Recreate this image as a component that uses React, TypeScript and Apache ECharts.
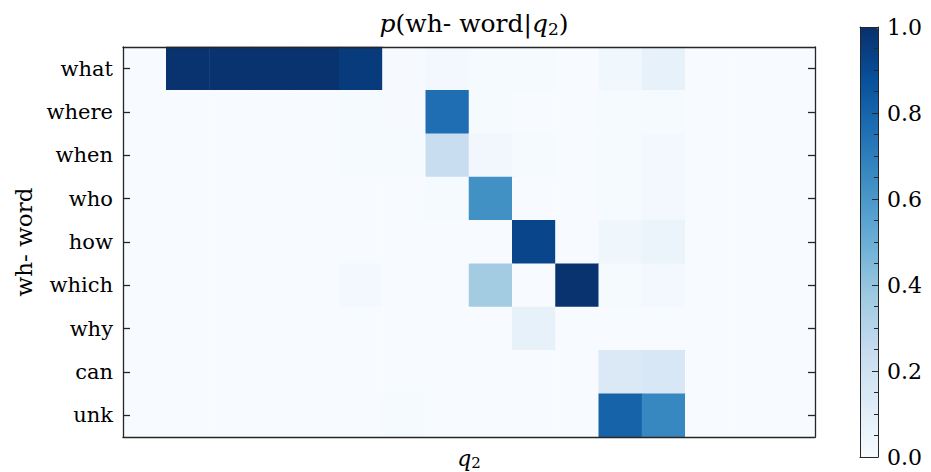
import React, { useEffect, useRef } from "react";
import * as echarts from "echarts";

const whWords = ["what", "where", "when", "who", "how", "which", "why", "can", "unk"];
const q2Clusters = ["0", "1", "2", "3", "4", "5", "6", "7", "8", "9", "10", "11", "12", "13", "14", "15"];

const pWhat  = [0, 0.99, 0.99, 0.99, 0.99, 0.96, 0.005, 0.02, 0.01, 0.01, 0, 0.035, 0.08, 0, 0, 0];
const pWhere = [0, 0, 0, 0, 0, 0.01, 0.005, 0.76, 0.01, 0, 0, 0.01, 0.01, 0, 0, 0];
const pWhen  = [0, 0, 0, 0, 0, 0.01, 0.01, 0.235, 0.03, 0.01, 0, 0.01, 0.02, 0, 0, 0];
const pWho   = [0, 0, 0, 0, 0, 0, 0, 0.01, 0.63, 0, 0, 0.01, 0.02, 0, 0, 0];
const pHow   = [0, 0, 0, 0, 0, 0, 0, 0, 0, 0.92, 0, 0.04, 0.06, 0, 0, 0];
const pWhich = [0, 0, 0, 0, 0, 0.02, 0, 0, 0.36, 0, 0.99, 0.01, 0.02, 0, 0, 0];
const pWhy   = [0, 0, 0, 0, 0, 0, 0, 0, 0, 0.078, 0, 0, 0, 0, 0, 0];
const pCan   = [0, 0, 0, 0, 0, 0, 0, 0, 0, 0, 0, 0.14, 0.155, 0, 0, 0];
const pUnk   = [0, 0, 0, 0, 0, 0, 0.01, 0, 0, 0, 0, 0.805, 0.665, 0, 0, 0];

const rows = [pWhat, pWhere, pWhen, pWho, pHow, pWhich, pWhy, pCan, pUnk];

const colorbarTicks = [0, 0.2, 0.4, 0.6, 0.8, 1.0];

const blues = ["#f7fbff", "#deebf7", "#c6dbef", "#9ecae1", "#6baed6", "#4292c6", "#2171b5", "#08519c", "#08306b"];

const FONT = "DejaVu Serif";
const LINE = "#262626";

export default function App() {
  const ref = useRef<HTMLDivElement>(null);
  useEffect(() => {
    if (!ref.current) return;
    const chart = echarts.init(ref.current, undefined, { renderer: "svg" });
    const data: [number, number, number][] = [];
    rows.forEach((r, yi) => r.forEach((v, xi) => data.push([xi, yi, v])));
    const mkRich = (size: number, sub: number, drop: number) => ({
      i: { fontStyle: "italic", fontWeight: "normal", fontFamily: FONT, fontSize: size, color: "#000" },
      r: { fontStyle: "normal", fontWeight: "normal", fontFamily: FONT, fontSize: size, color: "#000" },
      s: { fontStyle: "normal", fontWeight: "normal", fontFamily: FONT, fontSize: sub, color: "#000", padding: [drop, 0, 0, 0] },
    });
    chart.setOption({
      animation: false,
      backgroundColor: "#fff",
      title: {
        text: "{i|p}{r|(wh- word|}{i|q}{s|2}{r|)}",
        left: 469,
        textAlign: "center",
        top: 4,
        textStyle: { fontWeight: "normal", rich: mkRich(25, 17, 11) },
      },
      grid: [
        { left: 123, top: 47, width: 692, height: 390, outerBoundsMode: "none", containLabel: false },
        { left: 860, top: 27, width: 18, height: 430, outerBoundsMode: "none", containLabel: false },
      ],
      xAxis: [
        {
          type: "category", gridIndex: 0, data: q2Clusters, position: "bottom",
          axisTick: { show: false }, axisLabel: { show: false },
          axisLine: { show: true, lineStyle: { color: LINE, width: 1.3 } },
          splitLine: { show: false }, z: 10,
          name: "{i|q}{s|2}", nameLocation: "middle", nameGap: 9,
          nameTextStyle: { rich: mkRich(22, 15, 9) },
        },
        {
          type: "category", gridIndex: 0, data: q2Clusters, position: "top",
          axisTick: { show: false }, axisLabel: { show: false },
          axisLine: { show: true, onZero: false, lineStyle: { color: LINE, width: 1.3 } },
          splitLine: { show: false }, z: 10,
        },
        {
          type: "value", gridIndex: 1, min: 0, max: 1, position: "bottom",
          axisTick: { show: false }, axisLabel: { show: false },
          axisLine: { show: true, lineStyle: { color: LINE, width: 1 } }, splitLine: { show: false }, z: 10,
        },
        {
          type: "value", gridIndex: 1, min: 0, max: 1, position: "top",
          axisTick: { show: false }, axisLabel: { show: false },
          axisLine: { show: true, onZero: false, lineStyle: { color: LINE, width: 1 } }, splitLine: { show: false }, z: 10,
        },
      ],
      yAxis: [
        {
          type: "category", gridIndex: 0, data: whWords, inverse: true, position: "left",
          axisTick: { show: true, inside: true, alignWithLabel: true, length: 7, lineStyle: { color: LINE, width: 1.3 } },
          axisLine: { show: true, lineStyle: { color: LINE, width: 1.3 } },
          axisLabel: { fontFamily: FONT, fontSize: 21, color: "#000", margin: 10 },
          splitLine: { show: false }, z: 10,
          name: "wh- word", nameLocation: "middle", nameGap: 82, nameRotate: 90,
          nameTextStyle: { fontFamily: FONT, fontSize: 23, color: "#000" },
        },
        {
          type: "category", gridIndex: 0, data: whWords, inverse: true, position: "right",
          axisTick: { show: true, inside: true, alignWithLabel: true, length: 7, lineStyle: { color: LINE, width: 1.3 } },
          axisLine: { show: true, lineStyle: { color: LINE, width: 1.3 } },
          axisLabel: { show: false }, splitLine: { show: false }, z: 10,
        },
        {
          type: "value", gridIndex: 1, min: 0, max: 1, position: "left",
          axisTick: { show: false }, axisLabel: { show: false },
          axisLine: { show: true, onZero: false, lineStyle: { color: LINE, width: 1 } }, splitLine: { show: false }, z: 10,
        },
        {
          type: "value", gridIndex: 1, min: 0, max: 1, interval: 0.2, position: "right",
          axisTick: { show: true, inside: true, length: 6, lineStyle: { color: LINE, width: 1 } },
          minorTick: { show: true, splitNumber: 4, length: 4, lineStyle: { color: LINE, width: 1 } },
          axisLine: { show: true, onZero: false, lineStyle: { color: LINE, width: 1 } },
          axisLabel: {
            fontFamily: FONT, fontSize: 22, color: "#000", margin: 9,
            formatter: (v: number) => (colorbarTicks.some((t) => Math.abs(t - v) < 1e-6) ? v.toFixed(1) : ""),
          },
          splitLine: { show: false }, minorSplitLine: { show: false }, z: 10,
        },
      ],
      visualMap: {
        type: "continuous",
        min: 0, max: 1,
        seriesIndex: 0,
        calculable: false,
        left: 860, top: 27,
        itemWidth: 18, itemHeight: 430,
        padding: 0,
        text: ["", ""],
        showLabel: false,
        inRange: { color: blues },
        z: 1,
      },
      series: [
        {
          type: "heatmap",
          xAxisIndex: 0, yAxisIndex: 0,
          data,
          itemStyle: { borderWidth: 0 },
          emphasis: { disabled: true },
        },
      ],
    });
    return () => chart.dispose();
  }, []);
  return <div ref={ref} style={{ position: "fixed", left: 0, top: 0, width: 931, height: 472 }} />;
}
